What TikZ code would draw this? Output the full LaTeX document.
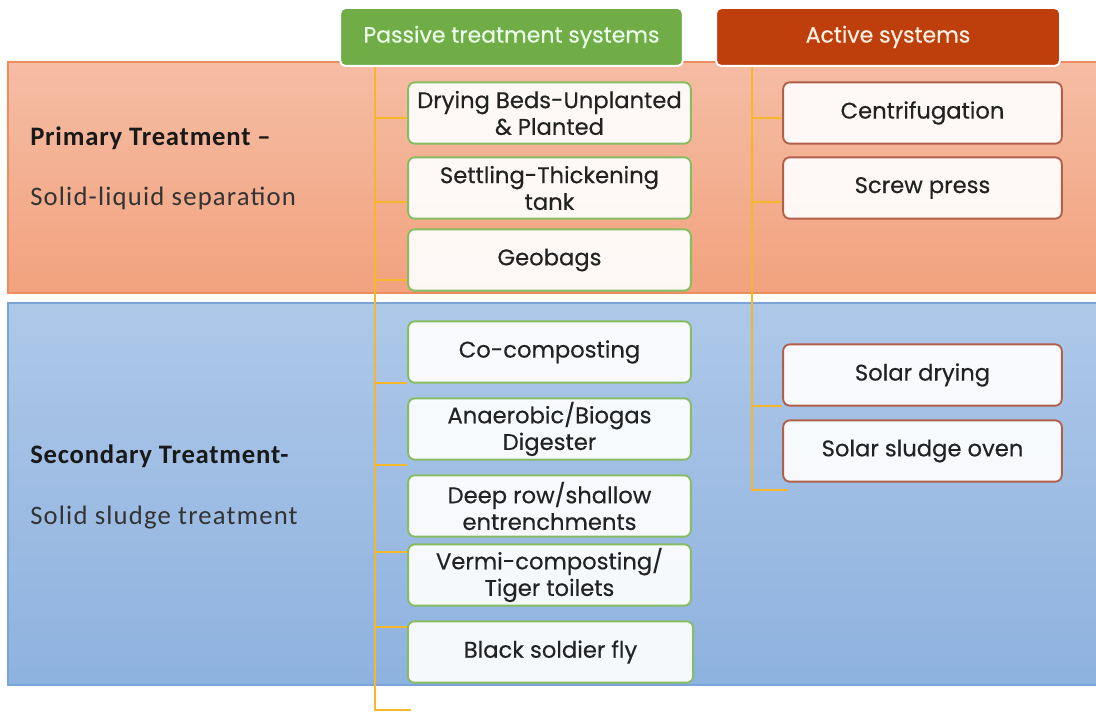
\documentclass[tikz,border=0pt]{standalone}
\usepackage{fontspec}
\setmainfont{Poppins}
\newfontfamily\calib{Carlito}
\definecolor{pgreen}{HTML}{70AD47}
\definecolor{pgborder}{HTML}{86BD62}
\definecolor{ared}{HTML}{BF3F0C}
\definecolor{arborder}{HTML}{B0604A}
\definecolor{gold}{HTML}{F6B82A}
\definecolor{txt}{HTML}{222222}
\definecolor{orTop}{HTML}{F5BDA4}
\definecolor{orBot}{HTML}{F2A27E}
\definecolor{orLine}{HTML}{EC8C60}
\definecolor{blTop}{HTML}{AEC8E8}
\definecolor{blBot}{HTML}{8EB2DF}
\definecolor{blLine}{HTML}{7AA3D6}
\begin{document}
\begin{tikzpicture}[x=0.75pt,y=-0.75pt,
  boxbase/.style={line width=1.4pt, rounded corners=5pt, fill=white, fill opacity=0.92, text opacity=1,
    text=txt, font=\fontsize{17}{20}\selectfont\addfontfeature{FakeBold=0.4}, align=center, inner sep=0pt,
    minimum width=212pt, minimum height=46pt},
  pbox/.style={boxbase, draw=pgborder},
  abox/.style={boxbase, draw=arborder, minimum width=209pt},
  head/.style={rounded corners=4pt, draw=white, line width=1.5pt, minimum width=257pt,
    minimum height=43.5pt, inner sep=0pt, font=\fontsize{16.5}{19}\selectfont\addfontfeature{FakeBold=0.4}},
  conn/.style={draw=gold, line width=2pt},
  lbold/.style={anchor=west, inner sep=0pt, font=\calib\bfseries\fontsize{20}{23}\selectfont\addfontfeature{LetterSpace=3}, text=black!90},
  lnorm/.style={anchor=west, inner sep=0pt, font=\calib\fontsize{20}{23}\selectfont\addfontfeature{LetterSpace=4.5}, text=black!80}
]
\useasboundingbox (0,0) rectangle (1096,713);
\fill[white] (0,0) rectangle (1096,713);

% bands
\draw[orLine, line width=0.8pt, top color=orTop, bottom color=orBot] (8,62) rectangle (1100,293);
\draw[blLine, line width=0.8pt, top color=blTop, bottom color=blBot] (8,303) rectangle (1100,685);

% left labels
\node[lbold] (pt) at (30,138) {Primary Treatment –};
\node[lnorm] (ps) at (30,198) {Solid-liquid separation};
\node[lbold] (st) at (30,456) {Secondary Treatment-};
\node[lnorm] (ss) at (30,518) {Solid sludge treatment};

% headers
\node[head, fill=pgreen, text=green!8!white] (ph) at (511.5,37) {Passive treatment systems};
\node[head, fill=ared, text=orange!10!white, minimum width=258pt] (ah) at (888,37) {Active systems};

% passive boxes
\node[pbox] (b1) at (549.5,113) {Drying Beds-Unplanted\\\& Planted};
\node[pbox] (b2) at (549.5,188) {Settling-Thickening\\tank};
\node[pbox] (b3) at (549.5,260) {Geobags};
\node[pbox] (b4) at (549.5,352) {Co-composting};
\node[pbox] (b5) at (549.5,429) {Anaerobic/Biogas\\Digester};
\node[pbox] (b6) at (549.5,506) {Deep row/shallow\\entrenchments};
\node[pbox] (b7) at (549.5,575) {Vermi-composting/\\Tiger toilets};
\node[pbox, minimum width=214pt] (b8) at (550.5,652) {Black soldier fly};

% active boxes
\node[abox] (c1) at (922.5,113) {Centrifugation};
\node[abox] (c2) at (922.5,188) {Screw press};
\node[abox] (c3) at (922.5,375) {Solar drying};
\node[abox] (c4) at (922.5,451) {Solar sludge oven};

% passive trunk
\coordinate (ptr) at (375,710);
\coordinate (pend) at (411,710);
\draw[conn] (ph.south -| ptr) -- (ptr) -- (pend);
\draw[conn] (ptr |- 0,118) -- (b1.west |- 0,118);
\draw[conn] (ptr |- 0,202) -- (b2.west |- 0,202);
\draw[conn] (ptr |- 0,280) -- (b3.west |- 0,280);
\draw[conn] (ptr |- 0,383) -- (b4.west |- 0,383);
\draw[conn] (ptr |- 0,465) -- (b5.west |- 0,465);
\draw[conn] (ptr |- 0,552) -- (b7.west |- 0,552);
\draw[conn] (ptr |- 0,627) -- (b8.west |- 0,627);

% active trunk
\coordinate (atr) at (752,490);
\coordinate (aend) at (788,490);
\draw[conn] (ah.south -| atr) -- (atr) -- (aend);
\draw[conn] (atr |- 0,118) -- (c1.west |- 0,118);
\draw[conn] (atr |- 0,202) -- (c2.west |- 0,202);
\draw[conn] (atr |- 0,406) -- (c3.west |- 0,406);
\end{tikzpicture}
\end{document}
